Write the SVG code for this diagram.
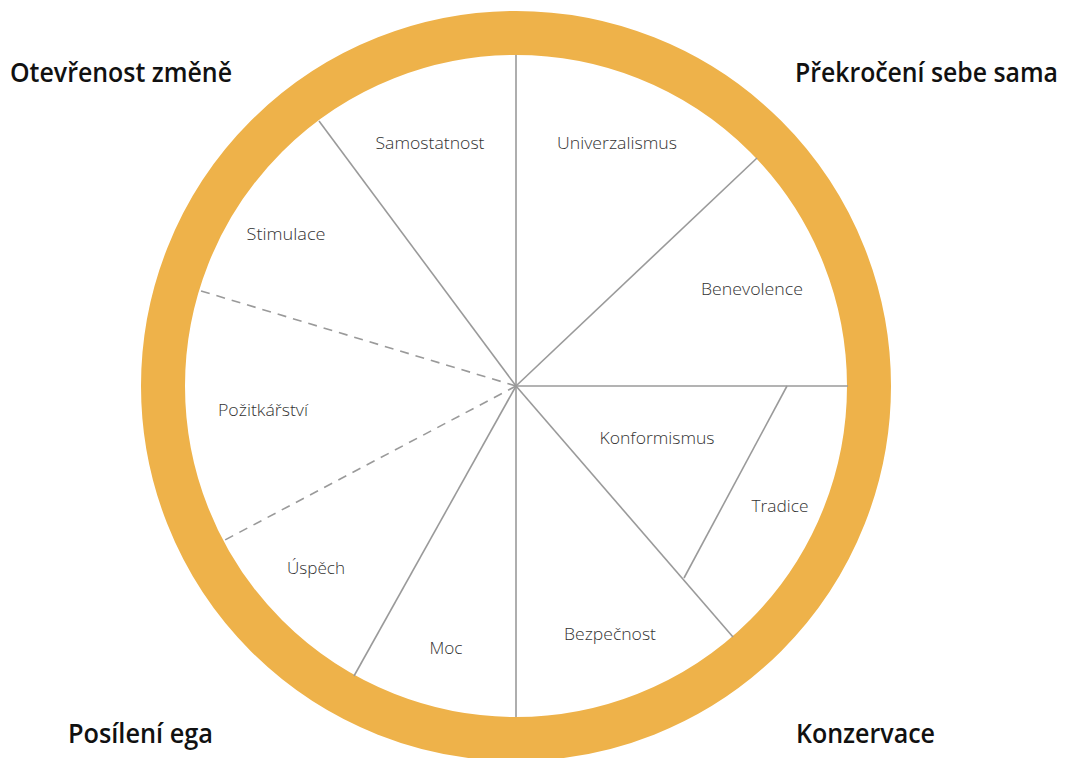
<svg xmlns="http://www.w3.org/2000/svg" width="1065" height="758" viewBox="0 0 1065 758">
<style>
.ring{fill:none;stroke:#EEB24A;stroke-width:44}
.ln{stroke:#9a9a9a;stroke-width:1.6;fill:none}
.dash{stroke-dasharray:9 7}
.lbl{font-family:"Open Sans","Liberation Sans",sans-serif;font-weight:300;font-size:16.5px;fill:#333;text-anchor:middle}
.ttl{font-family:"Open Sans","Liberation Sans",sans-serif;font-weight:600;font-size:27px;fill:#111}
</style>
<rect width="1065" height="758" fill="#fff"/>
<g id="wheel">
<circle class="ring" cx="516" cy="386" r="353"/>
</g>
<g id="connectors">
<line class="ln" x1="516" y1="386" x2="516" y2="55"/>
<line class="ln" x1="516" y1="386" x2="516" y2="717"/>
<line class="ln" x1="516" y1="386" x2="319" y2="121"/>
<line class="ln" x1="516" y1="386" x2="757" y2="158"/>
<line class="ln" x1="516" y1="386" x2="848" y2="386"/>
<line class="ln" x1="516" y1="386" x2="733" y2="637"/>
<line class="ln" x1="787" y1="386" x2="684" y2="578"/>
<line class="ln" x1="516" y1="386" x2="354" y2="676"/>
<line class="ln dash" x1="516" y1="386" x2="198" y2="290"/>
<line class="ln dash" x1="516" y1="386" x2="223" y2="541"/>
</g>
<g id="n-samostatnost"><text class="lbl" x="430" y="149" textLength="109" lengthAdjust="spacingAndGlyphs">Samostatnost</text></g>
<g id="n-univerzalismus"><text class="lbl" x="617" y="149" textLength="120" lengthAdjust="spacingAndGlyphs">Univerzalismus</text></g>
<g id="n-stimulace"><text class="lbl" x="286" y="240" textLength="79" lengthAdjust="spacingAndGlyphs">Stimulace</text></g>
<g id="n-benevolence"><text class="lbl" x="752" y="295" textLength="102" lengthAdjust="spacingAndGlyphs">Benevolence</text></g>
<g id="n-pozitkarstvi"><text class="lbl" x="263" y="416" textLength="90" lengthAdjust="spacingAndGlyphs">Požitkářství</text></g>
<g id="n-konformismus"><text class="lbl" x="657" y="444" textLength="115" lengthAdjust="spacingAndGlyphs">Konformismus</text></g>
<g id="n-tradice"><text class="lbl" x="780" y="512" textLength="57" lengthAdjust="spacingAndGlyphs">Tradice</text></g>
<g id="n-uspech"><text class="lbl" x="316" y="574" textLength="58" lengthAdjust="spacingAndGlyphs">Úspěch</text></g>
<g id="n-moc"><text class="lbl" x="446" y="654" textLength="33" lengthAdjust="spacingAndGlyphs">Moc</text></g>
<g id="n-bezpecnost"><text class="lbl" x="610" y="640" textLength="92" lengthAdjust="spacingAndGlyphs">Bezpečnost</text></g>
<g id="t-otevrenost"><text class="ttl" x="10" y="82" textLength="222" lengthAdjust="spacingAndGlyphs">Otevřenost změně</text></g>
<g id="t-prekroceni"><text class="ttl" x="795" y="82" textLength="263" lengthAdjust="spacingAndGlyphs">Překročení sebe sama</text></g>
<g id="t-posileni"><text class="ttl" x="68" y="743" textLength="145" lengthAdjust="spacingAndGlyphs">Posílení ega</text></g>
<g id="t-konzervace"><text class="ttl" x="796" y="743" textLength="139" lengthAdjust="spacingAndGlyphs">Konzervace</text></g>
</svg>
